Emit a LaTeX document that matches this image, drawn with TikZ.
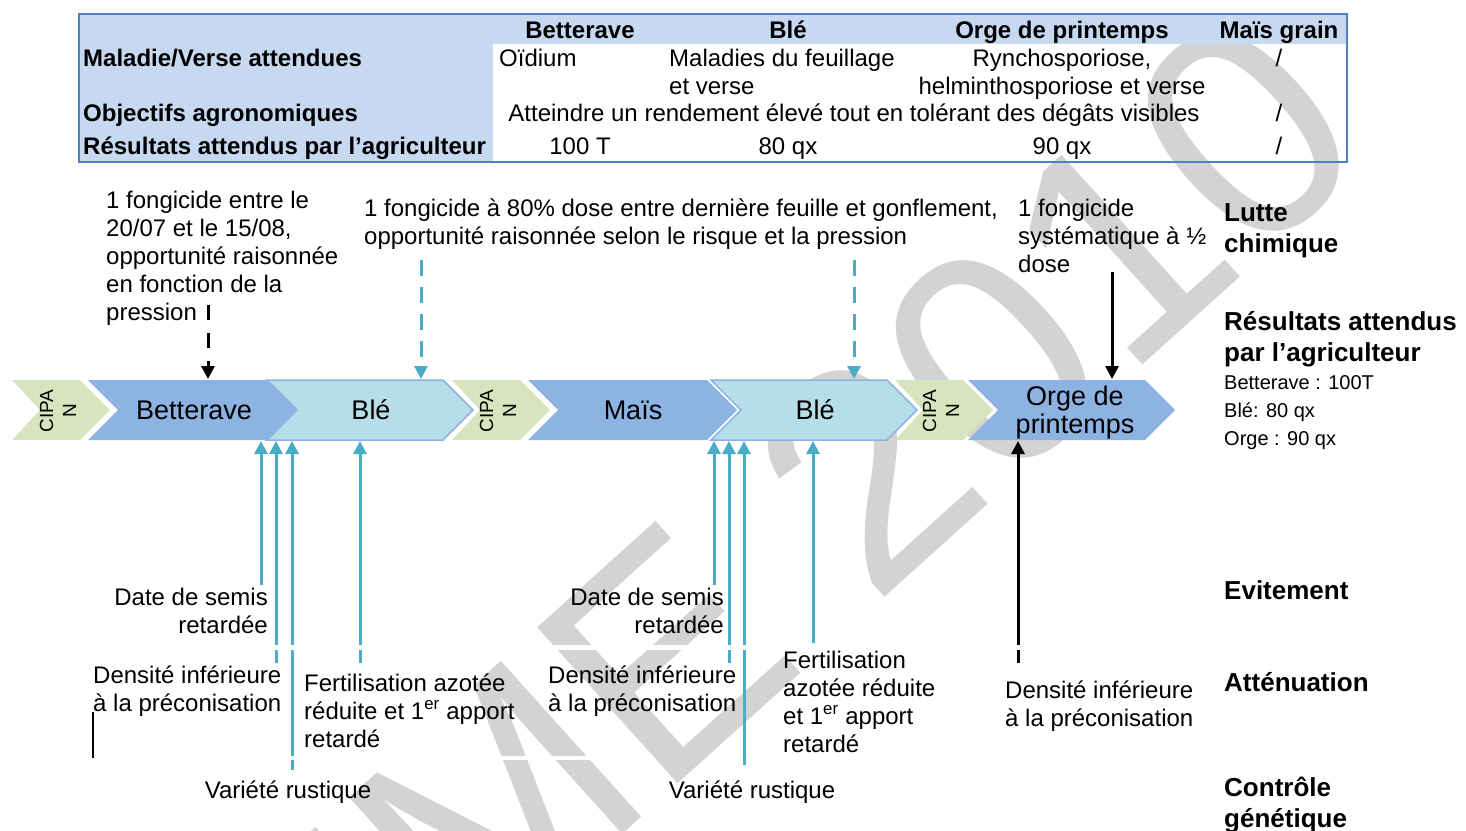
\documentclass[tikz,border=0pt]{standalone}
\usepackage{fontspec}
\setmainfont{Liberation Sans}
\usetikzlibrary{arrows.meta}
\definecolor{tabblue}{HTML}{C6D9F1}
\definecolor{tabborder}{HTML}{4F81BD}
\definecolor{chevblue}{HTML}{8DB3E2}
\definecolor{chevcyan}{HTML}{B7DDE8}
\definecolor{chevgreen}{HTML}{D7E4BD}
\definecolor{arrcyan}{HTML}{4BACC6}
\definecolor{wmgray}{HTML}{D3D3D3}
\begin{document}
\begin{tikzpicture}[x=1pt,y=-1pt,
  txt/.style={font=\fontsize{24}{28}\selectfont, inner sep=0pt},
  tabhead/.style={font=\bfseries\fontsize{24}{28}\selectfont, inner sep=0pt},
  sidelab/.style={font=\bfseries\fontsize{26}{31}\selectfont, inner sep=0pt, align=left, anchor=base west},
  chevtxt/.style={font=\fontsize{27}{28}\selectfont, inner sep=0pt, align=center},
  cipatxt/.style={font=\fontsize{19}{23}\selectfont, inner sep=0pt, align=center, rotate=90},
  bluechev/.style={fill=chevblue},
  cyanchev/.style={fill=chevcyan, draw=chevblue, line width=1.5pt},
  greenchev/.style={fill=chevgreen},
  tip/.style={-{Triangle[width=13pt,length=13pt]}},
  cyanline/.style={tip, draw=arrcyan, line width=3pt},
  blackline/.style={tip, draw=black, line width=3pt},
  dashpat/.style={dash pattern=on 16pt off 11pt},
]
\useasboundingbox (0,0) rectangle (1466,830);
\fill[white] (0,0) rectangle (1466,830);

% watermark
\begin{scope}
\clip (0,0) rectangle (1466,830);
\node[rotate=42, anchor=base west, text=wmgray, inner sep=0pt,
      font=\fontsize{305}{305}\selectfont] (wm) at (5,1390) {ADEME 2010};
\end{scope}

% ---------- table ----------
\fill[tabblue] (79,14) rectangle (1347,44);
\fill[tabblue] (79,14) rectangle (493,162);
\draw[tabborder, line width=2.5pt] (79,14) rectangle (1347,162);

\node[tabhead, anchor=base] (hB) at (580,38) {Betterave};
\node[tabhead, anchor=base] (hW) at (788,38) {Blé};
\node[tabhead, anchor=base] (hO) at (1062,38) {Orge de printemps};
\node[tabhead, anchor=base] (hM) at (1279,38) {Maïs grain};

\node[tabhead, anchor=base west] (r1) at (83,66) {Maladie/Verse attendues};
\node[tabhead, anchor=base west] (r2) at (83,121) {Objectifs agronomiques};
\node[tabhead, anchor=base west] (r3) at (83,154) {Résultats attendus par l’agriculteur};

\node[txt, anchor=base west] (c11) at (499,66) {Oïdium};
\node[txt, anchor=base west, align=left] (c12) at (669,94) {Maladies du feuillage\\et verse};
\node[txt, anchor=base, align=center] (c13) at (1062,94) {Rynchosporiose,\\helminthosporiose et verse};
\node[txt, anchor=base] (c14) at (1279,66) {/};
\node[txt, anchor=base] (c21) at (854,121) {Atteindre un rendement élevé tout en tolérant des dégâts visibles};
\node[txt, anchor=base] (c24) at (1279,121) {/};
\node[txt, anchor=base] (c31) at (580,154) {100 T};
\node[txt, anchor=base] (c32) at (788,154) {80 qx};
\node[txt, anchor=base] (c33) at (1062,154) {90 qx};
\node[txt, anchor=base] (c34) at (1279,154) {/};

% ---------- chevrons ----------
\fill[greenchev] (12,380) -- (80,380) -- (110,410) -- (80,440) -- (12,440) -- (40,410) -- cycle;
\fill[bluechev] (88,380) -- (267,380) -- (297,410) -- (267,440) -- (88,440) -- (118,410) -- cycle;
\filldraw[cyanchev] (267,380) -- (443,380) -- (473,410) -- (443,440) -- (267,440) -- (297,410) -- cycle;
\fill[greenchev] (452,380) -- (520,380) -- (550,410) -- (520,440) -- (452,440) -- (480,410) -- cycle;
\fill[bluechev] (528,380) -- (707,380) -- (737,410) -- (707,440) -- (528,440) -- (558,410) -- cycle;
\filldraw[cyanchev] (711,380) -- (887,380) -- (917,410) -- (887,440) -- (711,440) -- (741,410) -- cycle;
\fill[greenchev] (895,380) -- (963,380) -- (993,410) -- (963,440) -- (895,440) -- (923,410) -- cycle;
\fill[bluechev] (968,380) -- (1145,380) -- (1175,410) -- (1145,440) -- (968,440) -- (998,410) -- cycle;

\node[cipatxt] (cip1) at (58,411) {CIPA\\N};
\node[cipatxt] (cip2) at (498,411) {CIPA\\N};
\node[cipatxt] (cip3) at (941,411) {CIPA\\N};
\node[chevtxt] (betterave) at (194,410) {Betterave};
\node[chevtxt] (ble1) at (371,410) {Blé};
\node[chevtxt] (mais) at (633,410) {Maïs};
\node[chevtxt] (ble2) at (815,410) {Blé};
\node[chevtxt] (orge) at (1075,413) {Orge de\\printemps};

% ---------- top labels ----------
\node[txt, anchor=base west, align=left] (lt1) at (106,320)
  {1 fongicide entre le\\20/07 et le 15/08,\\opportunité raisonnée\\en fonction de la\\pression};
\node[txt, anchor=base west, align=left] (lt2) at (364,244)
  {1 fongicide à 80\% dose entre dernière feuille et gonflement,\\opportunité raisonnée selon le risque et la pression};
\node[txt, anchor=base west, align=left] (lt3) at (1018,272)
  {1 fongicide\\systématique à ½\\dose};

% ---------- top arrows ----------
\coordinate (a1s) at (208,305); \coordinate (a1e) at (208,379);
\coordinate (a2s) at (421,260); \coordinate (a2e) at (421,379);
\coordinate (a3s) at (854,260); \coordinate (a3e) at (854,379);
\coordinate (a4s) at (1112,272); \coordinate (a4e) at (1112,379);
\draw[blackline, dash pattern=on 15pt off 13pt] (a1s) -- (a1e);
\draw[cyanline, dashpat] (a2s) -- (a2e);
\draw[cyanline, dashpat] (a3s) -- (a3e);
\draw[blackline] (a4s) -- (a4e);

% ---------- bottom arrows ----------
\foreach \x/\y/\n in {261/585/b1, 276/663/b2, 292/770/b3, 360/663/b4,
                      714/585/b5, 729/663/b6, 744/765/b7, 813/643/b8}{
  \coordinate (\n s) at (\x,\y);
  \coordinate (\n e) at (\x,441);
  \draw[cyanline] (\n s) -- (\n e);
}
\coordinate (b9s) at (1018,663); \coordinate (b9e) at (1018,441);
\draw[blackline] (b9s) -- (b9e);
% white gaps of the text frames
\fill[white] (85,645) rectangle (1030,650);
\fill[white] (85,756) rectangle (600,760);
% stray vertical line
\coordinate (s1) at (93,712); \coordinate (s2) at (93,758);
\draw[line width=2pt] (s1) -- (s2);

% ---------- bottom labels ----------
\node[txt, anchor=base east, align=right] (ds1) at (268,633) {Date de semis\\retardée};
\node[txt, anchor=base east, align=right] (ds2) at (724,633) {Date de semis\\retardée};
\node[txt, anchor=base west, align=left] (di1) at (93,711) {Densité inférieure\\à la préconisation};
\node[txt, anchor=base west, align=left] (di2) at (548,711) {Densité inférieure\\à la préconisation};
\node[txt, anchor=base west, align=left] (di3) at (1005,726) {Densité inférieure\\à la préconisation};
\node[txt, anchor=base west, align=left] (fa1) at (304,747)
  {Fertilisation azotée\\réduite et 1\textsuperscript{er} apport\\retardé};
\node[txt, anchor=base west, align=left] (fa2) at (783,752)
  {Fertilisation\\azotée réduite\\et 1\textsuperscript{er} apport\\retardé};
\node[txt, anchor=base] (vr1) at (288,798) {Variété rustique};
\node[txt, anchor=base] (vr2) at (752,798) {Variété rustique};

% ---------- right column ----------
\node[sidelab] (lc) at (1224,252) {Lutte\\chimique};
\node[sidelab] (ra) at (1224,361) {Résultats attendus\\par l’agriculteur};
\node[font=\fontsize{20}{28}\selectfont, inner sep=0pt, align=left, anchor=base west] (rv) at (1224,445)
  {Betterave : 100T\\Blé: 80 qx\\Orge : 90 qx};
\node[sidelab] (ev) at (1224,599) {Evitement};
\node[sidelab] (at) at (1224,691) {Atténuation};
\node[sidelab] (cg) at (1224,827) {Contrôle\\génétique};
\end{tikzpicture}
\end{document}
